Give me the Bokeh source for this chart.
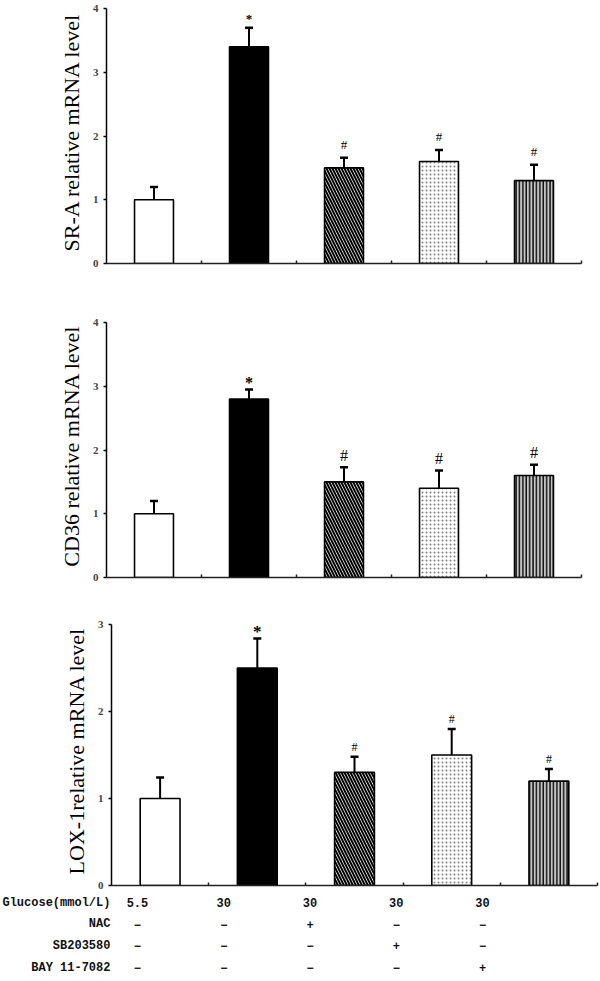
from bokeh.plotting import figure
from bokeh.layouts import column
from bokeh.models import Range1d, FixedTicker, Whisker, ColumnDataSource, TeeHead
from bokeh.core.properties import value
from bokeh.embed import file_html
from bokeh.resources import INLINE

# ---------------- data ----------------
groups = ["Glucose 5.5", "Glucose 30", "Glucose 30 + NAC", "Glucose 30 + SB203580", "Glucose 30 + BAY 11-7082"]

sra_mean = [1.0, 3.4, 1.5, 1.6, 1.3]
sra_err = [0.2, 0.3, 0.16, 0.18, 0.25]
sra_mark = ["", "*", "#", "#", "#"]

cd36_mean = [1.0, 2.8, 1.5, 1.4, 1.6]
cd36_err = [0.2, 0.15, 0.23, 0.28, 0.17]
cd36_mark = ["", "*", "#", "#", "#"]

lox_mean = [1.0, 2.5, 1.3, 1.5, 1.2]
lox_err = [0.24, 0.34, 0.18, 0.3, 0.14]
lox_mark = ["", "*", "#", "#", "#"]

table_rows = ["Glucose(mmol/L)", "NAC", "SB203580", "BAY 11-7082"]
table_glucose = ["5.5", "30", "30", "30", "30"]
table_nac = ["\u2212", "\u2212", "+", "\u2212", "\u2212"]
table_sb = ["\u2212", "\u2212", "\u2212", "+", "\u2212"]
table_bay = ["\u2212", "\u2212", "\u2212", "\u2212", "+"]

# ---------------- styles ----------------
fills = ["white", "black", "white", "white", "#c4c4c4"]
hatches = [" ", " ", "\\", ".", "|"]
hatch_colors = ["black", "black", "black", "#808080", "#111111"]
hatch_scales = [6, 6, 6, 4, 3.4]
hatch_weights = [1, 1, 2, 1.2, 1.5]

SERIF = "Liberation Serif"
W = 600


def panel(mean, err, mark, ylabel, ymax, px_per_unit, extra_top, height, border_bottom,
          left, right, star_size, star_gap, hash_size, hash_gap):
    n = len(mean)
    xs = [i + 0.5 for i in range(n)]
    upper = [m + e for m, e in zip(mean, err)]
    p = figure(width=W, height=height, output_backend="svg", toolbar_location=None,
               x_range=Range1d(0, n), y_range=Range1d(0, ymax + extra_top / px_per_unit),
               min_border_left=left, min_border_right=right,
               min_border_top=0, min_border_bottom=border_bottom)
    p.frame_align = False
    p.outline_line_color = None
    p.xgrid.visible = False
    p.ygrid.visible = False
    p.background_fill_color = "white"
    p.border_fill_color = "white"

    for i in range(n):
        src = ColumnDataSource(dict(x=[xs[i]], top=[mean[i]]))
        p.vbar(x="x", top="top", bottom=0, width=0.41, source=src,
               fill_color=fills[i], line_color="black", line_width=1.6,
               hatch_pattern=hatches[i], hatch_color=hatch_colors[i],
               hatch_scale=hatch_scales[i], hatch_weight=hatch_weights[i])

    wsrc = ColumnDataSource(dict(x=xs, base=mean, upper=upper))
    wh = Whisker(base="x", lower="base", upper="upper", source=wsrc,
                 line_color="black", line_width=2,
                 upper_head=TeeHead(size=8, line_color="black", line_width=2.5),
                 lower_head=None, level="overlay")
    p.add_layout(wh)

    idx_star = [i for i in range(n) if mark[i] == "*"]
    idx_hash = [i for i in range(n) if mark[i] == "#"]
    star = ColumnDataSource(dict(x=[xs[i] for i in idx_star],
                                 y=[upper[i] + star_gap / px_per_unit for i in idx_star],
                                 t=[mark[i] for i in idx_star]))
    hsh = ColumnDataSource(dict(x=[xs[i] for i in idx_hash],
                                y=[upper[i] + hash_gap / px_per_unit for i in idx_hash],
                                t=[mark[i] for i in idx_hash]))
    p.text(x="x", y="y", text="t", source=star, text_align="center", text_baseline="middle",
           text_font=value(SERIF), text_font_style="bold",
           text_font_size=f"{star_size}px", text_color="black")
    p.text(x="x", y="y", text="t", source=hsh, text_align="center", text_baseline="middle",
           text_font=value(SERIF),
           text_font_size=f"{hash_size}px", text_color="black")

    # axes
    p.xaxis.ticker = FixedTicker(ticks=list(range(1, n + 1)))
    p.xaxis.major_label_text_font_size = "0px"
    p.xaxis.major_label_text_color = None
    p.xaxis.major_tick_in = 3
    p.xaxis.major_tick_out = 0
    p.xaxis.minor_tick_line_color = None
    p.xaxis.axis_line_width = 1.6
    p.xaxis.axis_line_color = "#222222"
    p.xaxis.major_tick_line_color = "#222222"
    p.xaxis.major_tick_line_width = 1.5

    p.yaxis.bounds = (0, ymax)
    p.yaxis.ticker = FixedTicker(ticks=list(range(0, int(ymax) + 1)))
    p.yaxis.minor_tick_line_color = None
    p.yaxis.major_tick_in = 0
    p.yaxis.major_tick_out = 3
    p.yaxis.major_tick_line_width = 1.5
    p.yaxis.axis_line_width = 1.5
    p.yaxis.axis_line_color = "black"
    p.yaxis.major_label_text_font = SERIF
    p.yaxis.major_label_text_font_size = "11px"
    p.yaxis.major_label_text_font_style = "bold"
    p.yaxis.major_label_standoff = 5
    p.yaxis.axis_label = ylabel
    p.yaxis.axis_label_text_font = SERIF
    p.yaxis.axis_label_text_font_size = "22px"
    p.yaxis.axis_label_text_font_style = "normal"
    p.yaxis.axis_label_standoff = 6
    p.yaxis.axis_label_text_color = "black"
    return p


p1 = panel(sra_mean, sra_err, sra_mark, "SR-A relative mRNA level", 4, 63.75, 8,
           height=314, border_bottom=51, left=106, right=19,
           star_size=13, star_gap=9.5, hash_size=13, hash_gap=13.5)
p2 = panel(cd36_mean, cd36_err, cd36_mark, "CD36 relative mRNA level", 4, 63.75, 8,
           height=302, border_bottom=39, left=106, right=19,
           star_size=16, star_gap=7, hash_size=16, hash_gap=12)
p3 = panel(lox_mean, lox_err, lox_mark, "LOX-1relative mRNA level", 3, 87, 8,
           height=274, border_bottom=5, left=111, right=3,
           star_size=17, star_gap=6.8, hash_size=12, hash_gap=9.5)

# ---------------- condition table ----------------
pt = figure(width=W, height=91, output_backend="svg", toolbar_location=None,
            x_range=Range1d(-1.588, 5.368), y_range=Range1d(3.646, -0.554),
            min_border=0)
pt.frame_align = False
pt.axis.visible = False
pt.grid.visible = False
pt.outline_line_color = None

label_src = ColumnDataSource(dict(x=[-0.313] * len(table_rows), y=list(range(len(table_rows))), t=table_rows))
pt.text(x="x", y="y", text="t", source=label_src, text_align="right", text_baseline="middle",
        text_font=value("Liberation Mono"), text_font_size="12px", text_font_style="bold",
        text_color="#111111")

cells_x, cells_y, cells_t = [], [], []
for r, row in enumerate([table_glucose, table_nac, table_sb, table_bay]):
    for c, v in enumerate(row):
        cells_x.append(c)
        cells_y.append(r)
        cells_t.append(v)
cell_src = ColumnDataSource(dict(x=cells_x, y=cells_y, t=cells_t))
pt.text(x="x", y="y", text="t", source=cell_src, text_align="center", text_baseline="middle",
        text_font=value("Liberation Mono"), text_font_size="12px", text_font_style="bold",
        text_color="#111111")

layout = column(p1, p2, p3, pt, spacing=0)
open("out.html", "w").write(file_html(layout, INLINE))
